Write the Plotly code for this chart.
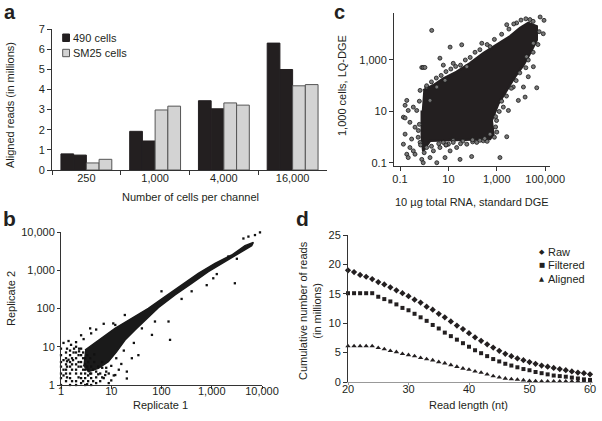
import numpy as np
import plotly.graph_objects as go

FONT = "Liberation Sans, Arial, Helvetica, sans-serif"
INK = "#231f20"
W, H = 602, 421

# ---------------- Panel a: aligned reads ----------------
cell_numbers = ["250", "1,000", "4,000", "16,000"]
reads_490_rep1 = [0.80, 1.92, 3.44, 6.30]
reads_490_rep2 = [0.74, 1.44, 3.04, 4.99]
reads_sm25_rep1 = [0.35, 2.98, 3.33, 4.18]
reads_sm25_rep2 = [0.53, 3.17, 3.22, 4.24]
legend_a = ["490 cells", "SM25 cells"]

# ---------------- Panel b: replicate scatter (log10 units) ----------------
b_core_lx = [0.478, 0.743, 1.075, 1.407, 1.738, 2.070, 2.402, 2.733, 3.065, 3.397, 3.662, 3.828,
             3.795, 3.596, 3.264, 2.932, 2.601, 2.269, 1.937, 1.672, 1.473, 1.274, 1.108, 0.942,
             0.743, 0.544, 0.445]
b_core_ly = [0.915, 1.177, 1.482, 1.743, 2.004, 2.309, 2.614, 2.919, 3.181, 3.399, 3.643, 3.730,
             3.643, 3.486, 3.242, 2.963, 2.658, 2.353, 2.022, 1.700, 1.438, 1.177, 0.872, 0.610,
             0.436, 0.349, 0.523]
b_pts_lx = [0.58, 1.27, 1.08, 1.04, 2.17, 3.46, 2.90, 3.03, 3.63, 3.73, 3.86, 3.96, 3.33, 1.87, 2.14,
            1.61, 1.81, 1.41, 1.54, 1.31, 1.31, 1.08, 0.88,
            0.00, 0.00, 0.00, 0.00, 0.00, 0.00, 0.00,
            0.10, 0.10, 0.10, 0.10, 0.10, 0.10,
            0.18, 0.18, 0.18, 0.18, 0.18, 0.18, 0.18,
            0.30, 0.30, 0.30, 0.30, 0.30, 0.30, 0.30, 0.30,
            0.40, 0.40, 0.40, 0.40, 0.40, 0.40, 0.40,
            0.48, 0.48, 0.48, 0.48, 0.48, 0.48,
            0.54, 0.54, 0.54, 0.54,
            0.60, 0.60, 0.60, 0.60,
            0.70, 0.70, 0.70,
            0.78, 0.78, 0.85, 0.95, 0.95, 1.05, 1.15, 0.05, 0.20, 0.45, 0.60,
            0.24, 0.36, 0.66, 0.90, 1.20, 1.00, 0.52, 0.15, 0.26, 0.82,
            0.05, 0.05, 0.05, 0.12, 0.12, 0.12, 0.12, 0.22, 0.22, 0.22, 0.22, 0.25, 0.35, 0.35,
            0.35, 0.35, 0.36, 0.44, 0.44, 0.44, 0.44, 0.52, 0.52, 0.58, 0.58, 0.64, 0.64, 0.66,
            0.74, 0.74, 0.82, 0.82, 0.90, 1.00, 0.15, 0.30, 0.40, 0.70, 0.85, 1.10, 1.25, 1.45,
            2.40, 2.00, 2.60, 3.10, 3.50]
b_pts_ly = [1.48, 1.83, 1.57, 1.61, 1.18, 2.66, 2.61, 2.79, 3.83, 3.88, 3.92, 3.99, 3.36, 1.66, 1.66,
            1.48, 1.31, 0.70, 0.78, 0.35, 0.17, 0.26, 0.26,
            0.00, 0.18, 0.30, 0.48, 0.60, 0.78, 0.95,
            0.10, 0.30, 0.40, 0.54, 0.70, 0.85,
            0.00, 0.18, 0.30, 0.48, 0.60, 0.78, 0.90,
            0.00, 0.10, 0.30, 0.40, 0.54, 0.70, 0.85, 1.00,
            0.05, 0.18, 0.30, 0.48, 0.60, 0.78, 0.95,
            0.00, 0.18, 0.30, 0.40, 0.54, 0.70,
            0.10, 0.25, 0.40, 0.60,
            0.00, 0.18, 0.30, 0.48,
            0.05, 0.20, 0.35,
            0.10, 0.30, 0.18, 0.05, 0.30, 0.25, 0.40, 1.10, 1.05, 1.20, 1.35,
            0.65, 0.88, 0.80, 0.45, 0.55, 0.12, 0.02, 0.66, 0.95, 0.60,
            0.25, 0.40, 0.65, 0.20, 0.48, 0.62, 0.95, 0.10, 0.40, 0.54, 0.70, 0.85, 0.20, 0.48,
            0.60, 0.78, 0.95, 0.10, 0.40, 0.70, 0.85, 0.48, 0.78, 0.30, 0.70, 0.10, 0.40, 0.60,
            0.28, 0.48, 0.20, 0.45, 0.35, 0.50, 1.15, 1.12, 1.30, 1.45, 1.60, 0.70, 0.90, 1.10,
            2.25, 2.45, 2.45, 2.90, 3.30]

# ---------------- Panel c: LQ-DGE vs standard DGE (log10 units) ----------------
c_core_lx = [-0.04, 0.38, 0.79, 1.34, 1.89, 2.44, 2.99, 3.55, 3.96, 4.30, 4.65, 4.65, 4.37, 4.10,
             3.75, 3.41, 3.06, 2.79, 2.86, 2.72, 1.34, 0.24, -0.04, -0.10, -0.10]
c_core_ly = [1.82, 2.02, 2.28, 2.54, 2.87, 3.26, 3.59, 3.92, 4.24, 4.44, 4.31, 3.78, 3.26, 2.80,
             2.35, 1.82, 1.30, 0.65, 0.12, -0.07, -0.11, -0.14, -0.53, -0.01, 1.04]
c_pts_lx = [0.31, 1.07, 1.55, 0.65, -0.10, -0.04, 0.03, 0.79, 1.20, 4.79, 4.95, 4.92, 4.65, 4.10,
            4.30, 4.17, 3.89, 3.48, 3.13, 3.41, 1.48, 1.96, 0.86, 0.52, -0.72, -0.79, -0.86, -0.79,
            -0.66, -0.59, -0.45, -0.31, -0.17, 0.10, -0.86, -0.72, -0.59, -0.79, -0.38, -0.24,
            0.38, 0.65, 1.00, 1.34, 1.76, 2.17, 2.44, 0.24, -0.10, -0.38, -0.52, 1.07, -0.04,
            0.10, -0.17, 0.79, -0.45, -0.66, 0.24, 0.52, 0.86, 1.76, 2.38, 2.72, 3.41, 3.82,
            4.37, 4.51, 4.51, 4.23, 3.68, 3.27, 2.99, 2.72, 2.60, 2.30, 2.00, 1.60, 1.20, 0.90,
            0.10, 0.30, 0.50, 0.70, 0.90, 1.10, 1.30, 1.50, 1.70, 1.90, 2.10, 2.30, 2.60, 2.90,
            3.20, 3.50, 3.70, 4.00, 4.20, 4.50, 4.75, 4.70, 4.50, 4.30, 4.20, 3.95, 3.80, 3.60,
            3.40, 3.20, 3.10, 2.95, 2.95, 3.00, 2.90, -0.20, -0.20, -0.25, -0.15, 0.00, 0.30,
            0.60, 0.90, 1.20, 1.50, 2.00, 2.50]
c_pts_ly = [4.15, 3.50, 3.59, 3.07, 2.71, 2.71, 2.71, 2.80, 2.87, 4.67, 4.54, 4.02, 1.92, 1.95,
            2.35, 1.56, 1.43, 1.04, -0.79, 0.02, -0.86, -0.75, -0.79, -0.99, 1.43, 1.24, 0.78, 0.75,
            1.04, 0.58, 1.17, 1.04, 1.82, 1.95, -0.27, -0.66, -0.40, 0.12, 0.39, 0.26,
            -0.53, -0.40, -0.27, -0.40, -0.27, -0.20, -0.14, -0.79, -0.86, -0.66, -0.07, -0.53, -0.99,
            -0.40, -0.20, -0.20, -0.53, -0.79, 1.43, 1.95, 2.21, 2.74, 3.65, 3.52, 4.37, 4.44,
            4.57, 3.65, 2.74, 3.13, 1.95, 1.17, 0.65, 0.12, -0.16, -0.12, -0.18, -0.15, -0.12, -0.30,
            2.00, 2.15, 2.30, 2.40, 2.55, 2.65, 2.75, 2.80, 3.00, 3.10, 3.30, 3.40, 3.60, 3.80,
            4.00, 4.20, 4.40, 4.55, 4.60, 4.50, 4.10, 3.60, 3.30, 3.00, 2.70, 2.50, 2.20, 1.90,
            1.60, 1.40, 1.00, 0.80, 0.40, 0.20, 0.00, 0.50, 1.40, 0.00, -0.30, -0.60, -0.35,
            -0.25, -0.30, -0.20, -0.25, -0.10, -0.05]

# ---------------- Panel d: cumulative reads vs read length ----------------
read_length = [20, 21, 22, 23, 24, 25, 26, 27, 28, 29, 30, 31, 32, 33, 34, 35, 36, 37, 38, 39, 40,
               41, 42, 43, 44, 45, 46, 47, 48, 49, 50, 51, 52, 53, 54, 55, 56, 57, 58, 59, 60]
raw_reads = [19.0, 18.7, 18.2, 17.9, 17.5, 17.0, 16.6, 16.1, 15.6, 15.1, 14.6, 14.0, 13.5, 12.8,
             12.3, 11.6, 11.0, 10.3, 9.6, 9.0, 8.3, 7.6, 7.0, 6.4, 5.85, 5.3, 4.8, 4.4, 4.0, 3.7,
             3.4, 3.1, 2.8, 2.6, 2.4, 2.2, 2.0, 1.8, 1.6, 1.5, 1.3]
filtered_reads = [15.1, 15.1, 15.1, 15.1, 15.1, 14.5, 14.1, 13.7, 13.2, 12.6, 12.2, 11.6, 11.0, 10.4,
                  9.7, 9.1, 8.4, 7.8, 7.2, 6.6, 6.0, 5.4, 4.9, 4.4, 3.9, 3.5, 3.1, 2.8, 2.5, 2.2,
                  2.0, 1.7, 1.5, 1.3, 1.1, 1.0, 0.9, 0.75, 0.6, 0.45, 0.35]
aligned_reads = [6.1, 6.1, 6.1, 6.1, 6.1, 5.8, 5.6, 5.3, 5.1, 4.8, 4.6, 4.4, 4.1, 3.9, 3.7, 3.4,
                 3.2, 2.9, 2.6, 2.3, 2.1, 1.8, 1.6, 1.3, 1.0, 0.8, 0.6, 0.5, 0.4, 0.3, 0.2, 0.15,
                 0.12, 0.1, 0.1, 0.1, 0.1, 0.1, 0.1, 0.1, 0.1]
series_d = ["Raw", "Filtered", "Aligned"]


def px(x):
    return x / W


def py(y):
    return 1 - y / H


def pow10(a):
    return list(10 ** np.asarray(a, dtype=float))


fig = go.Figure()

# Panel a bars
bar_specs = [
    (reads_490_rep1, INK, INK),
    (reads_490_rep2, INK, INK),
    (reads_sm25_rep1, "#d3d3d3", "#555555"),
    (reads_sm25_rep2, "#d3d3d3", "#555555"),
]
for vals, fill, edge in bar_specs:
    fig.add_trace(go.Bar(x=cell_numbers, y=vals, marker=dict(color=fill, line=dict(color=edge, width=1)),
                         showlegend=False, xaxis="x", yaxis="y"))

# Panel b
fig.add_trace(go.Scatter(x=pow10(b_core_lx), y=pow10(b_core_ly), fill="toself", fillcolor="#1a1a1a",
                         mode="lines", line=dict(color="#1a1a1a", width=1.5), showlegend=False,
                         xaxis="x2", yaxis="y2"))
fig.add_trace(go.Scatter(x=pow10(b_pts_lx), y=pow10(b_pts_ly), mode="markers",
                         marker=dict(symbol="square", size=2.3, color="#111111"), cliponaxis=False,
                         showlegend=False, xaxis="x2", yaxis="y2"))

# Panel c
fig.add_trace(go.Scatter(x=pow10(c_core_lx), y=pow10(c_core_ly), fill="toself", fillcolor=INK,
                         mode="lines", line=dict(color=INK, width=2.5), showlegend=False,
                         xaxis="x3", yaxis="y3"))
fig.add_trace(go.Scatter(x=pow10(c_pts_lx), y=pow10(c_pts_ly), mode="markers",
                         marker=dict(symbol="circle", size=4, color="#777777",
                                     line=dict(color="#1a1a1a", width=0.8)),
                         cliponaxis=False, showlegend=False, xaxis="x3", yaxis="y3"))

# Panel d
for vals, sym, sz in [(raw_reads, "diamond", 4.8), (filtered_reads, "square", 4),
                      (aligned_reads, "triangle-up", 4.8)]:
    fig.add_trace(go.Scatter(x=read_length, y=vals, mode="markers",
                             marker=dict(symbol=sym, size=sz, color=INK), cliponaxis=False,
                             showlegend=False, xaxis="x4", yaxis="y4"))

axis_common = dict(showline=True, linecolor="#333333", linewidth=1, ticks="outside", ticklen=4,
                   tickcolor="#333333", tickwidth=1, showgrid=False, zeroline=False,
                   tickfont=dict(family=FONT, size=11, color=INK))

fig.update_layout(
    width=W, height=H, autosize=False,
    margin=dict(l=0, r=0, t=0, b=0, autoexpand=False),
    paper_bgcolor="white", plot_bgcolor="white",
    barmode="group", bargap=0.26, bargroupgap=0,
    showlegend=False,
    font=dict(family=FONT, size=11, color=INK),
    xaxis=dict(domain=[px(52), px(327)], anchor="y", type="category", range=[-0.5, 3.5],
               tickson="boundaries", ticklabelstandoff=-2, **axis_common),
    yaxis=dict(domain=[py(170), py(29)], anchor="x", range=[0, 7], dtick=1, **axis_common),
    xaxis2=dict(domain=[px(61), px(262)], anchor="y2", type="log", range=[0, 4],
                tickvals=[1, 10, 100, 1000, 10000], ticktext=["1", "10", "100", "1,000", "10,000"],
                ticklabelstandoff=-7, **{**axis_common, "ticklen": 3}),
    yaxis2=dict(domain=[py(385), py(232)], anchor="x2", type="log", range=[0, 4],
                tickvals=[1, 10, 100, 1000, 10000], ticktext=["1", "10", "100", "1,000", "10,000"],
                **{**axis_common, "ticklen": 3}),
    xaxis3=dict(domain=[px(394), px(550)], anchor="y3", type="log", range=[-1.248, 5.198],
                tickvals=[0.1, 10, 1000, 100000], ticktext=["0.1", "10", "1,000", "100,000"],
                ticklabelstandoff=-1, **axis_common),
    yaxis3=dict(domain=[py(166), py(13)], anchor="x3", type="log", range=[-1.117, 4.825],
                tickvals=[0.1, 10, 1000], ticktext=["0.1", "10", "1,000"], **axis_common),
    xaxis4=dict(domain=[px(348), px(590)], anchor="y4", range=[20, 60], dtick=10,
                ticklabelstandoff=-5, **{**axis_common, "linecolor": "#999999", "ticklen": 2,
                                         "tickcolor": "#999999"}),
    yaxis4=dict(domain=[py(382), py(235)], anchor="x4", range=[0, 25], dtick=5, **axis_common),
)

ann = []


def text(t, x, y, size=11, angle=0, bold=False, xanchor="center", family=FONT):
    ann.append(dict(text=("<b>%s</b>" % t) if bold else t, x=px(x), y=py(y), xref="paper",
                    yref="paper", showarrow=False, textangle=angle, xanchor=xanchor,
                    yanchor="middle", font=dict(family=family, size=size, color=INK)))


# axis titles
text("Aligned reads (in millions)", 10, 105, angle=-90)
text("Number of cells per channel", 190, 197)
text("Replicate 2", 11, 299, angle=-90)
text("Replicate 1", 160, 405)
text("1,000 cells, LQ-DGE", 342, 85, angle=-90)
text("10 µg total RNA, standard DGE", 472, 202)
text("Cumulative number of reads<br>(in millions)", 310, 311, angle=-90)
text("Read length (nt)", 468, 405)

# panel letters
text("a", 10, 12.5, size=20, bold=True)
text("b", 9, 219, size=21, bold=True)
text("c", 339.5, 12.5, size=20, bold=True)
text("d", 302, 219, size=21, bold=True)

# legend a
text(legend_a[0], 71, 38, xanchor="left")
text(legend_a[1], 71, 53, xanchor="left")
shapes = [
    dict(type="rect", xref="paper", yref="paper", x0=px(62.7), x1=px(69.5), y0=py(41.5), y1=py(34),
         fillcolor=INK, line=dict(color=INK, width=1)),
    dict(type="rect", xref="paper", yref="paper", x0=px(62.7), x1=px(69.5), y0=py(56.7), y1=py(49.3),
         fillcolor="#d3d3d3", line=dict(color="#555555", width=1)),
]

# legend d
for name, glyph, yy, gs in [(series_d[0], "◆", 251.7, 7), (series_d[1], "■", 265, 6.5),
                            (series_d[2], "▲", 279.3, 6.5)]:
    text(glyph, 541.7, yy, size=gs, family="DejaVu Sans")
    text(name, 546, yy, xanchor="left")

fig.update_layout(annotations=ann, shapes=shapes)
fig.write_html("out.html", config={"displayModeBar": False},
               post_script="document.body.style.margin='0';document.body.style.overflow='hidden';")
